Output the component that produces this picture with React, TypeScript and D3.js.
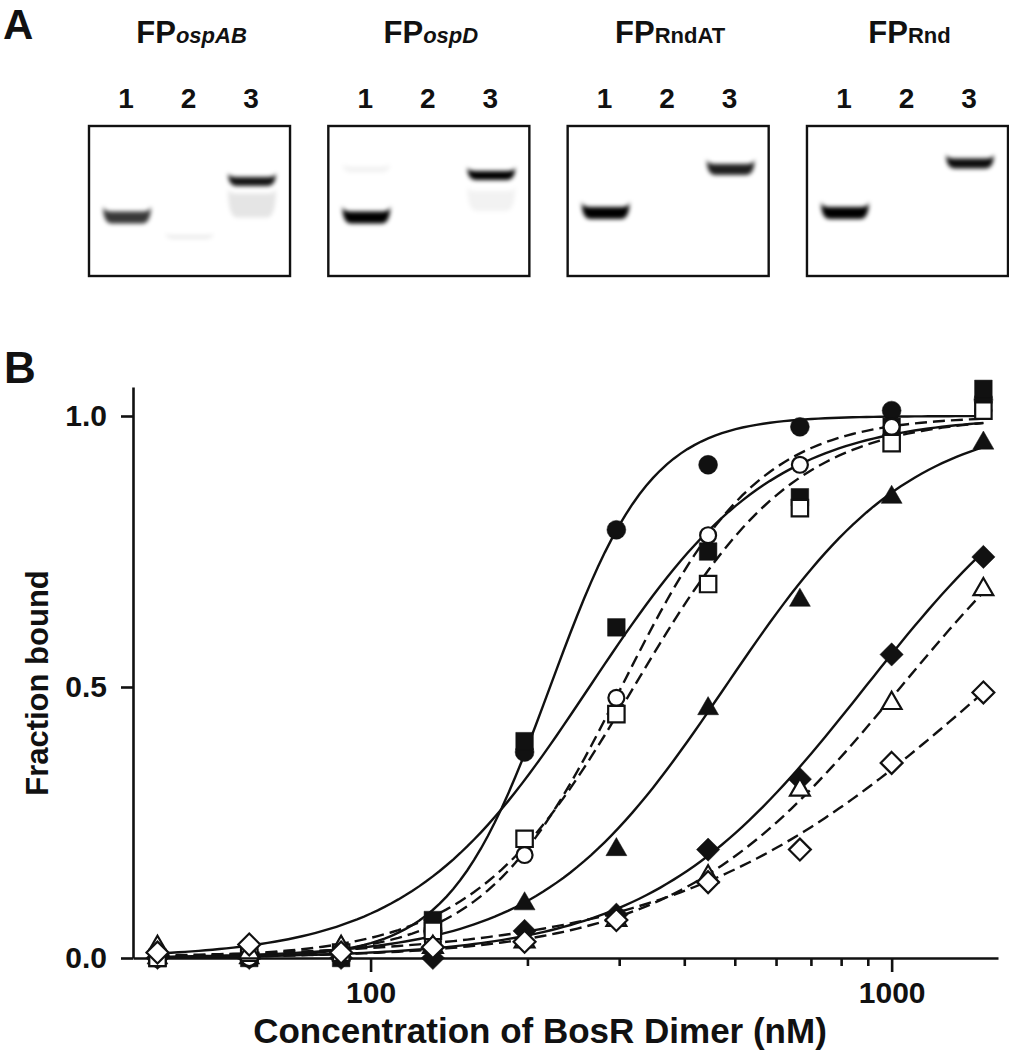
import React, { useRef, useEffect } from 'react';
import * as d3 from 'd3';

// ---- panel B data (fraction bound vs BosR dimer, nM) ----
const concentrations = [39, 58.5, 87.8, 131.7, 197.5, 296.3, 444.4, 666.7, 1000, 1500];

const filledCircle = [0, 0, 0.01, 0.05, 0.38, 0.79, 0.91, 0.98, 1.01, 1.03];
const filledSquare = [0, 0, 0, 0.07, 0.40, 0.61, 0.75, 0.85, 0.98, 1.05];
const openCircle = [0, 0, 0.01, 0.03, 0.19, 0.48, 0.78, 0.91, 0.98, 1.01];
const openSquare = [0, 0.01, 0.01, 0.05, 0.22, 0.45, 0.69, 0.83, 0.95, 1.01];
const filledTriangle = [0, 0, 0.02, 0.03, 0.10, 0.20, 0.46, 0.66, 0.85, 0.95];
const filledDiamond = [0, 0, 0, 0, 0.05, 0.08, 0.20, 0.33, 0.56, 0.74];
const openTriangle = [0.02, 0.01, 0.02, 0.02, 0.03, 0.07, 0.15, 0.31, 0.47, 0.68];
const openDiamond = [0.01, 0.025, 0.01, 0.02, 0.03, 0.07, 0.14, 0.20, 0.36, 0.49];

// Hill fit parameters (Kd in nM, Hill coefficient)
const fitKd = [221, 263, 303, 320, 479, 890, 1041, 1542];
const fitHill = [4.5, 2.5, 3.3, 2.8, 2.45, 2.1, 2.0, 1.45];

const xTickValues = [100, 200, 300, 400, 500, 600, 700, 800, 900, 1000];
const xTickLabelled = [100, 1000];
const yTickValues = [0, 0.5, 1];

// ---- panel A data (gel shift) ----
const gelNames = ['ospAB', 'ospD', 'RndAT', 'Rnd'];
const gelItalic = [true, true, false, false];
const laneLabels = ['1', '2', '3'];
// lane index, relative migration in gel (0 top .. 1 bottom), ink, band thickness
const gelBands = [
  [
    { lane: 0, pos: 0.61, ink: 0.78, h: 12 },
    { lane: 1, pos: 0.74, ink: 0.08, h: 4 },
    { lane: 2, pos: 0.53, ink: 0.1, h: 24 },
    { lane: 2, pos: 0.37, ink: 0.92, h: 9 },
  ],
  [
    { lane: 0, pos: 0.29, ink: 0.05, h: 6 },
    { lane: 0, pos: 0.61, ink: 1, h: 12 },
    { lane: 2, pos: 0.5, ink: 0.05, h: 20 },
    { lane: 2, pos: 0.33, ink: 1, h: 9 },
  ],
  [
    { lane: 0, pos: 0.58, ink: 1, h: 12 },
    { lane: 2, pos: 0.29, ink: 0.88, h: 11 },
  ],
  [
    { lane: 0, pos: 0.58, ink: 1, h: 12 },
    { lane: 2, pos: 0.25, ink: 0.95, h: 10 },
  ],
];

const FONT = '"Liberation Sans", Arial, Helvetica, sans-serif';

const diamondType = {
  draw(ctx: any, size: number) {
    const r = Math.sqrt(size / 2);
    ctx.moveTo(0, -r);
    ctx.lineTo(r, 0);
    ctx.lineTo(0, r);
    ctx.lineTo(-r, 0);
    ctx.closePath();
  },
};

const series = [
  { values: filledCircle, type: d3.symbolCircle, size: 280, filled: true, dashed: false },
  { values: filledSquare, type: d3.symbolSquare, size: 310, filled: true, dashed: false },
  { values: openCircle, type: d3.symbolCircle, size: 200, filled: false, dashed: true },
  { values: openSquare, type: d3.symbolSquare, size: 270, filled: false, dashed: true },
  { values: filledTriangle, type: d3.symbolTriangle, size: 190, filled: true, dashed: false },
  { values: filledDiamond, type: diamondType, size: 270, filled: true, dashed: false },
  { values: openTriangle, type: d3.symbolTriangle, size: 170, filled: false, dashed: true },
  { values: openDiamond, type: diamondType, size: 240, filled: false, dashed: true },
].map((s, i) => ({ ...s, kd: fitKd[i], hill: fitHill[i] }));

const App: React.FC = () => {
  const xAxisRef = useRef<SVGGElement | null>(null);
  const yAxisRef = useRef<SVGGElement | null>(null);

  const left = 133, right = 998, top = 387, bottom = 958;

  const x = d3.scaleLog().domain([35, 1600]).range([left, right]);
  const y = d3.scaleLinear().domain([0, 1.0535]).range([bottom, top]);

  const gelX = d3.scaleBand<number>().domain([0, 1, 2, 3]).range([89, 1008]).paddingInner(0.16);
  const gelTop = 126, gelH = 150;
  const gelY = d3.scaleLinear().domain([0, 1]).range([gelTop, gelTop + gelH]);
  const laneX = d3.scalePoint<number>().domain([0, 1, 2]).range([37, 162]);

  useEffect(() => {
    const xAxis: any = d3.axisBottom(x)
      .tickValues(xTickValues)
      .tickSize(14)
      .tickSizeOuter(0)
      .tickPadding(10)
      .tickFormat((d: any) => (xTickLabelled.includes(+d) ? String(d) : ''));
    const gx = d3.select(xAxisRef.current).call(xAxis);
    gx.selectAll('.tick line')
      .attr('y2', (d: any) => (xTickLabelled.includes(+d) ? 14 : 8));

    const yAxis: any = d3.axisLeft(y)
      .tickValues(yTickValues)
      .tickSize(12)
      .tickSizeOuter(0)
      .tickPadding(14)
      .tickFormat(d3.format('.1f'));
    const gy = d3.select(yAxisRef.current).call(yAxis);

    [gx, gy].forEach(g => {
      g.select('.domain').attr('stroke', '#111').attr('stroke-width', 2.6);
      g.selectAll('.tick line').attr('stroke', '#111').attr('stroke-width', 2.6);
      g.selectAll('.tick text')
        .attr('fill', '#111')
        .style('font-family', FONT)
        .style('font-weight', 'bold')
        .style('font-size', '30px');
    });
  }, []);

  const fitX = d3.range(0, 121).map(i => 39 * Math.pow(1500 / 39, i / 120));
  const line = d3.line<number[]>()
    .x(d => x(d[0]))
    .y(d => y(d[1]));

  const bandPath = (cx: number, cy: number, w: number, h: number) => {
    const x0 = cx - w / 2, x1 = cx + w / 2;
    const t = cy - h / 2, b = cy + h / 2;
    const horn = Math.min(6, h * 0.5);
    return `M${x0},${t - horn} Q${x0},${b} ${x0 + 9},${b} L${x1 - 9},${b} Q${x1},${b} ${x1},${t - horn} ` +
      `Q${x1},${t} ${x1 - 9},${t} L${x0 + 9},${t} Q${x0},${t} ${x0},${t - horn} Z`;
  };

  return (
    <svg width={1009} height={1050} style={{ position: 'absolute', left: 0, top: 0, background: '#fff' }}
      fontFamily={FONT}>
      <defs>
        <filter id="blur" x="-30%" y="-100%" width="160%" height="300%">
          <feGaussianBlur stdDeviation="2.2" />
        </filter>
      </defs>
      <rect width={1009} height={1050} fill="#fff" />

      {/* Panel A */}
      <text x={3} y={39} fontSize={42} fontWeight="bold" fill="#111">A</text>
      {gelNames.map((name, gi) => {
        const gx = gelX(gi) as number;
        const gw = gelX.bandwidth();
        return (
          <g key={name}>
            <text x={gx + gw / 2 + 2} y={43} textAnchor="middle" fontWeight="bold" fill="#111">
              <tspan fontSize={31}>FP</tspan>
              <tspan fontSize={22} fontStyle={gelItalic[gi] ? 'italic' : 'normal'}>{name}</tspan>
            </text>
            {laneLabels.map((l, li) => (
              <text key={l} x={gx + (laneX(li) as number)} y={108} textAnchor="middle"
                fontSize={28} fontWeight="bold" fill="#111">{l}</text>
            ))}
            <g filter="url(#blur)">
              {gelBands[gi].map((b, bi) => (
                <path key={bi}
                  d={bandPath(gx + (laneX(b.lane) as number) + 1, gelY(b.pos), 48, b.h)}
                  fill="#000" fillOpacity={b.ink} />
              ))}
            </g>
            <rect x={gx} y={gelTop} width={gw} height={gelH} fill="none" stroke="#111" strokeWidth={2.4} />
          </g>
        );
      })}

      {/* Panel B */}
      <text x={4} y={383} fontSize={44} fontWeight="bold" fill="#111">B</text>

      <g fill="none" stroke="#111" strokeWidth={2.4}>
        {series.map((s, i) => (
          <path key={i}
            d={line(fitX.map(c => [c, Math.pow(c, s.hill) / (Math.pow(s.kd, s.hill) + Math.pow(c, s.hill))])) || ''}
            strokeDasharray={s.dashed ? '12,6' : undefined} />
        ))}
      </g>

      <g ref={xAxisRef} transform={`translate(0,${bottom})`} />
      <g ref={yAxisRef} transform={`translate(${left},0)`} />

      {series.filter(s => s.filled).concat(series.filter(s => !s.filled)).map((s, i) => (
        <g key={i}>
          {s.values.map((v, j) => (
            <path key={j}
              transform={`translate(${x(concentrations[j])},${y(v)})`}
              d={d3.symbol().type(s.type as any).size(s.size)() || ''}
              fill={s.filled ? '#111' : '#fff'}
              stroke="#111"
              strokeWidth={s.filled ? 0.5 : 2.2} />
          ))}
        </g>
      ))}

      <text x={540} y={1043} textAnchor="middle" fontSize={35} fontWeight="bold" fill="#111">
        Concentration of BosR Dimer (nM)
      </text>
      <text transform="translate(48,683) rotate(-90)" textAnchor="middle" fontSize={31}
        fontWeight="bold" fill="#111">Fraction bound</text>
    </svg>
  );
};

export default App;
